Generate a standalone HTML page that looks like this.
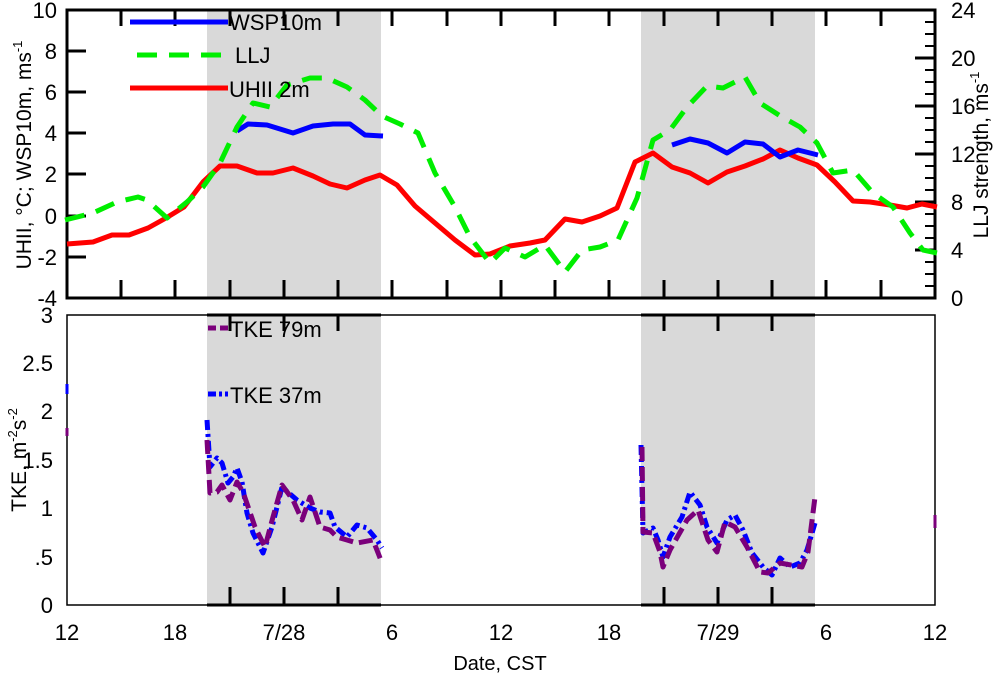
<!DOCTYPE html>
<html><head><style>body{margin:0;background:#fff}svg{display:block}</style></head><body>
<svg width="1000" height="677" viewBox="0 0 1000 677" font-family="Liberation Sans, sans-serif">
<rect x="207" y="10" width="174" height="288" fill="#d9d9d9"/>
<rect x="641" y="10" width="174" height="288" fill="#d9d9d9"/>
<rect x="207" y="315" width="174" height="290" fill="#d9d9d9"/>
<rect x="641" y="315" width="174" height="290" fill="#d9d9d9"/>
<rect x="67" y="10" width="868" height="288" fill="none" stroke="#000" stroke-width="3"/>
<g stroke="#000" stroke-width="3">
<path d="M121 10v16M175 10v16M230 10v16M284 10v16M338 10v16M392 10v16M447 10v16M501 10v16M555 10v16M609 10v16M664 10v16M718 10v16M772 10v16M826 10v16M881 10v16"/>
<path d="M121 298v-18M175 298v-18M230 298v-18M284 298v-18M338 298v-18M392 298v-18M447 298v-18M501 298v-18M555 298v-18M609 298v-18M664 298v-18M718 298v-18M772 298v-18M826 298v-18M881 298v-18"/>
<path d="M67 51h19M67 92h19M67 133h19M67 174h19M67 216h19M67 257h19"/>
<path d="M935 58h-20M935 106h-20M935 154h-20M935 202h-20M935 250h-20"/>
</g>
<g stroke="#000" stroke-width="2">
<path d="M935 22h-10M935 34h-10M935 46h-10M935 70h-10M935 82h-10M935 94h-10M935 118h-10M935 130h-10M935 142h-10M935 166h-10M935 178h-10M935 190h-10M935 214h-10M935 226h-10M935 238h-10M935 262h-10M935 274h-10M935 286h-10"/>
</g>
<g font-size="22" fill="#000" text-anchor="end">
<text x="57" y="18">10</text><text x="57" y="59">8</text><text x="57" y="100">6</text><text x="57" y="141">4</text><text x="57" y="182">2</text><text x="57" y="224">0</text><text x="57" y="265">-2</text><text x="57" y="306">-4</text>
</g>
<g font-size="22" fill="#000" text-anchor="start">
<text x="951" y="18">24</text><text x="951" y="66">20</text><text x="951" y="114">16</text><text x="951" y="162">12</text><text x="951" y="210">8</text><text x="951" y="258">4</text><text x="951" y="306">0</text>
</g>
<text transform="translate(31,155) rotate(-90)" font-size="21" text-anchor="middle">UHII, <tspan>°</tspan>C; WSP10m, ms<tspan dy="-9" font-size="13">-1</tspan></text>
<text transform="translate(988,155) rotate(-90)" font-size="21" text-anchor="middle">LLJ strength, ms<tspan dy="-9" font-size="13">-1</tspan></text>
<g fill="none" stroke-width="5" stroke-linejoin="round">
<polyline stroke="#ff0000" points="67,244 93,242 112,235 129,235 148,228 166,218 184,207 203,182 220,166 237,166 257,173 273,173 293,168 313,176 330,184 347,188 365,180 380,175 397,185 415,206 435,223 455,240 475,255 490,254 510,246 530,243 545,240 565,219 582,222 600,216 617,208 635,162 653,153 672,167 690,173 708,183 727,172 745,166 763,159 780,150 798,158 817,165 835,182 853,201 870,202 890,205 907,208 922,204 937,207"/>
<polyline stroke="#0000ff" points="237,131 248,124 267,125 293,133 313,126 333,124 350,124 365,135 383,136"/>
<polyline stroke="#0000ff" points="672,145 690,139 708,143 727,153 745,142 763,144 780,157 798,150 818,155"/>
<polyline stroke="#00ee00" stroke-dasharray="20,12" points="65,220 93,213 117,202 138,197 147,200 167,218 187,202 203,187 220,163 237,127 253,103 270,107 287,85 310,78 327,78 347,87 365,100 382,116 400,124 418,133 435,173 455,207 470,237 490,263 505,248 525,257 545,245 565,272 582,250 600,247 618,240 637,198 653,140 670,130 687,107 707,86 723,88 745,77 760,103 782,117 800,127 817,143 833,173 853,170 873,193 893,207 910,233 923,250 937,253"/>
<line x1="130" y1="22" x2="228" y2="22" stroke="#0000ff"/>
<line x1="137" y1="55" x2="228" y2="55" stroke="#00ee00" stroke-dasharray="20,12"/>
<line x1="130" y1="88" x2="228" y2="88" stroke="#ff0000"/>
</g>
<g font-size="22"><text x="229" y="30">WSP10m</text><text x="235" y="63">LLJ</text><text x="229" y="97">UHII 2m</text></g>
<rect x="67" y="315" width="868" height="290" fill="none" stroke="#000" stroke-width="1.5"/>
<g stroke="#000" stroke-width="3">
<path d="M207 315h174M641 315h174M207 605h174M641 605h174"/>
<path d="M230 315v16M284 315v16M338 315v16M664 315v16M718 315v16M772 315v16"/>
<path d="M230 605v-18M284 605v-18M338 605v-18M664 605v-18M718 605v-18M772 605v-18"/>
</g>
<g font-size="22" text-anchor="end">
<text x="53" y="323">3</text><text x="53" y="371">2.5</text><text x="53" y="419">2</text><text x="53" y="468">1.5</text><text x="53" y="516">1</text><text x="53" y="565">.5</text><text x="53" y="613">0</text>
</g>
<text transform="translate(26,460) rotate(-90)" font-size="21" text-anchor="middle">TKE, m<tspan dy="-9" font-size="13">-2</tspan><tspan dy="9">s</tspan><tspan dy="-9" font-size="13">-2</tspan></text>
<g fill="none" stroke-width="5" stroke-linejoin="round">
<polyline stroke="#0000ff" stroke-dasharray="10,4,3,4" points="207,420 210,467 217,458 222,463 228,483 233,477 237,468 242,482 247,513 253,533 263,553 272,527 282,487 297,500 310,508 320,512 330,513 335,527 347,537 357,525 367,528 377,540 382,548"/>
<polyline stroke="#7b007b" stroke-dasharray="14,6" points="207,440 210,493 217,492 222,485 230,500 237,482 243,492 255,527 265,547 273,517 282,485 293,500 302,520 310,497 320,527 330,530 337,537 347,540 357,543 373,540 382,563"/>
<polyline stroke="#0000ff" stroke-dasharray="10,4,3,4" points="641,445 643,533 653,528 658,540 663,557 670,537 682,517 690,492 700,505 707,527 717,543 727,520 735,515 743,530 752,553 763,567 772,575 780,558 790,567 800,563 807,550 815,523"/>
<polyline stroke="#7b007b" stroke-dasharray="14,6" points="642,447 643,532 653,533 660,552 663,567 670,550 687,520 698,510 708,540 717,552 725,522 735,527 747,547 760,572 768,573 780,563 802,567 808,552 815,497"/>
<line x1="67" y1="384" x2="67" y2="394" stroke="#0000ff" stroke-width="3"/>
<line x1="67" y1="428" x2="67" y2="436" stroke="#7b007b" stroke-width="3"/>
<line x1="935" y1="515" x2="935" y2="528" stroke="#7b007b" stroke-width="3"/>
<line x1="208" y1="328" x2="228" y2="328" stroke="#7b007b" stroke-dasharray="8,4"/>
<line x1="208" y1="394" x2="228" y2="394" stroke="#0000ff" stroke-dasharray="8,3,3,3"/>
</g>
<g font-size="22"><text x="230" y="337">TKE 79m</text><text x="230" y="403">TKE 37m</text></g>
<g font-size="22" text-anchor="middle">
<text x="67" y="640">12</text><text x="175" y="640">18</text><text x="284" y="640">7/28</text><text x="392" y="640">6</text><text x="501" y="640">12</text><text x="609" y="640">18</text><text x="718" y="640">7/29</text><text x="826" y="640">6</text><text x="935" y="640">12</text>
</g>
<text x="500" y="670" font-size="20" text-anchor="middle">Date, CST</text>
</svg>
</body></html>
